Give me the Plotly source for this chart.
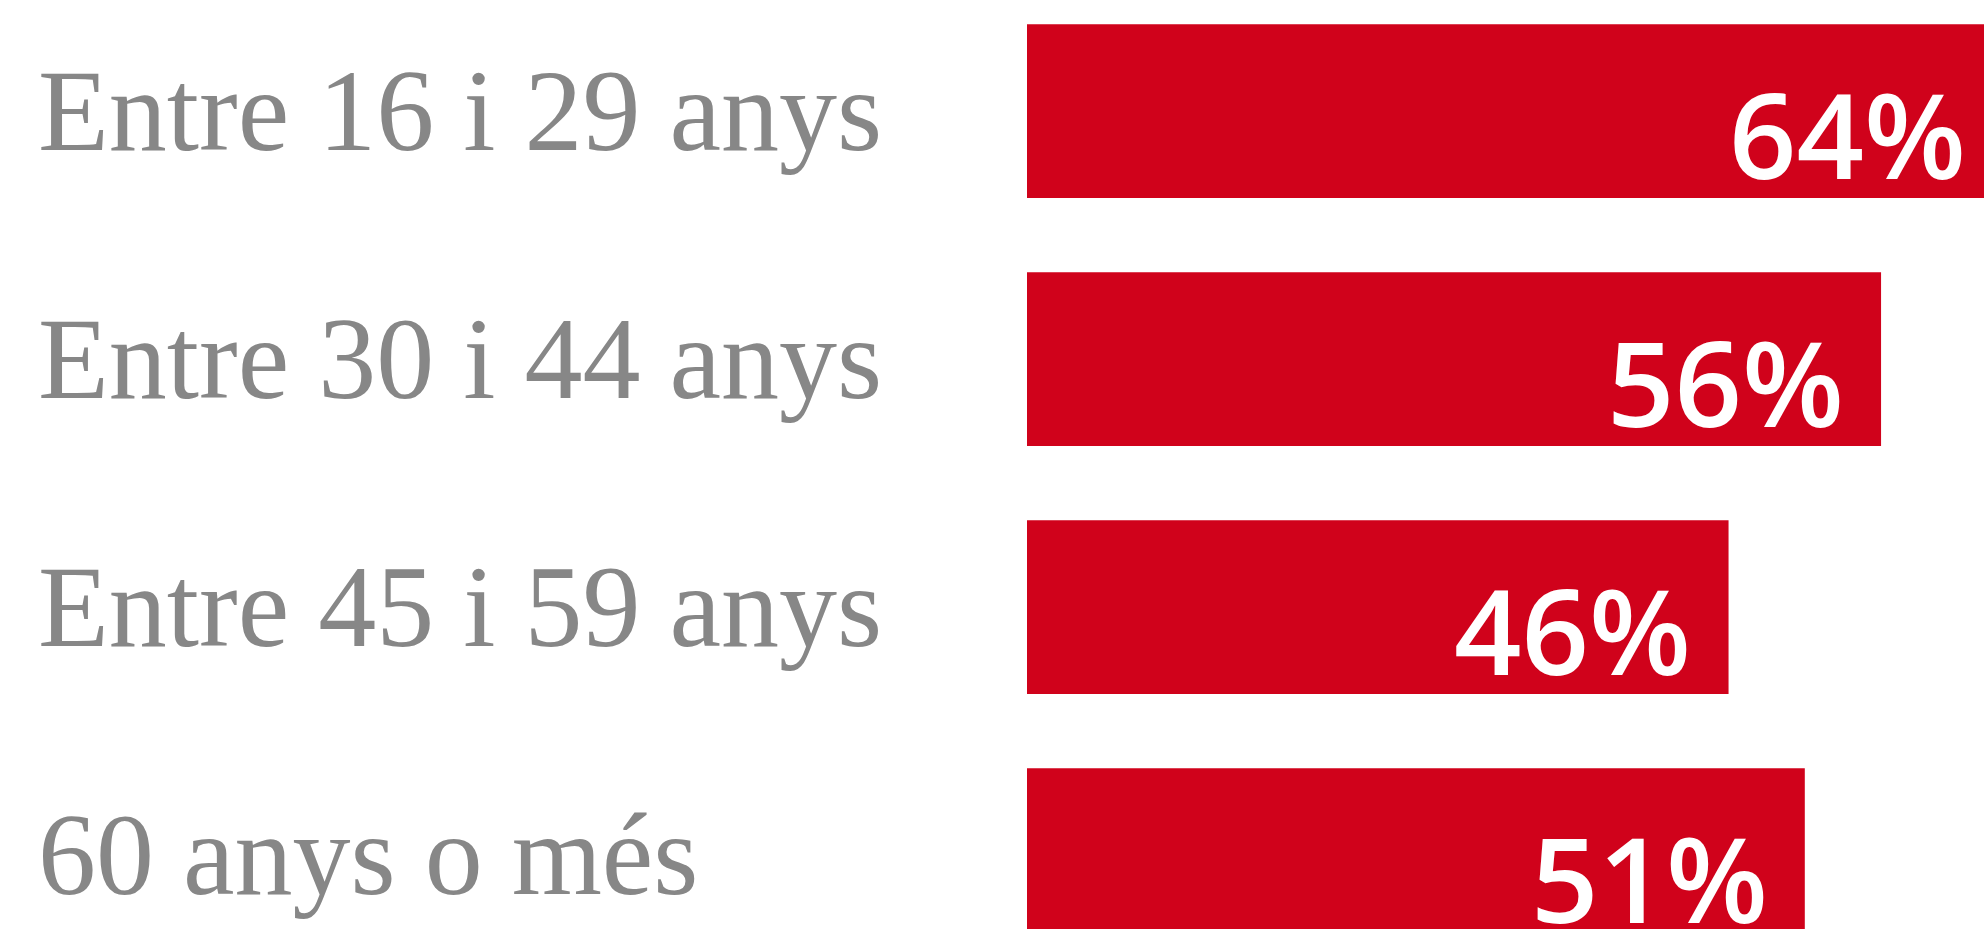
import plotly.graph_objects as go

categories = ["Entre 16 i 29 anys", "Entre 30 i 44 anys", "Entre 45 i 59 anys", "60 anys o més"]
values = [64, 56, 46, 51]
labels = ["64%", "56%", "46%", "51%"]

RED = "#D0021B"
GREY = "#878787"

fig = go.Figure()
fig.add_trace(go.Bar(
    x=values, y=categories, orientation="h",
    marker=dict(color=RED, line=dict(width=0)),
    width=0.7, hoverinfo="skip",
))

annotations = []
for c in categories:
    annotations.append(dict(
        text=c, xref="paper", yref="y", x=-1.036, y=c,
        xanchor="left", yanchor="middle", showarrow=False,
        font=dict(family="Liberation Serif", size=116, color=GREY),
    ))
for v, c, t in zip(values, categories, labels):
    annotations.append(dict(
        text=t, xref="x", yref="y", x=v - 2.3, y=c,
        xanchor="right", yanchor="middle", showarrow=False, yshift=-22,
        font=dict(family="Open Sans", size=118, color="white", weight=600),
    ))

fig.update_layout(
    width=1984, height=929, autosize=False,
    margin=dict(l=1027, r=0, t=0, b=0, pad=0),
    paper_bgcolor="white", plot_bgcolor="white",
    showlegend=False,
    xaxis=dict(range=[0, 62.75], visible=False, fixedrange=True),
    yaxis=dict(type="category", categoryorder="array", categoryarray=categories,
               range=[3.298, -0.448], visible=False, fixedrange=True),
    annotations=annotations,
)

fig.write_html("out.html", config={"displayModeBar": False})
